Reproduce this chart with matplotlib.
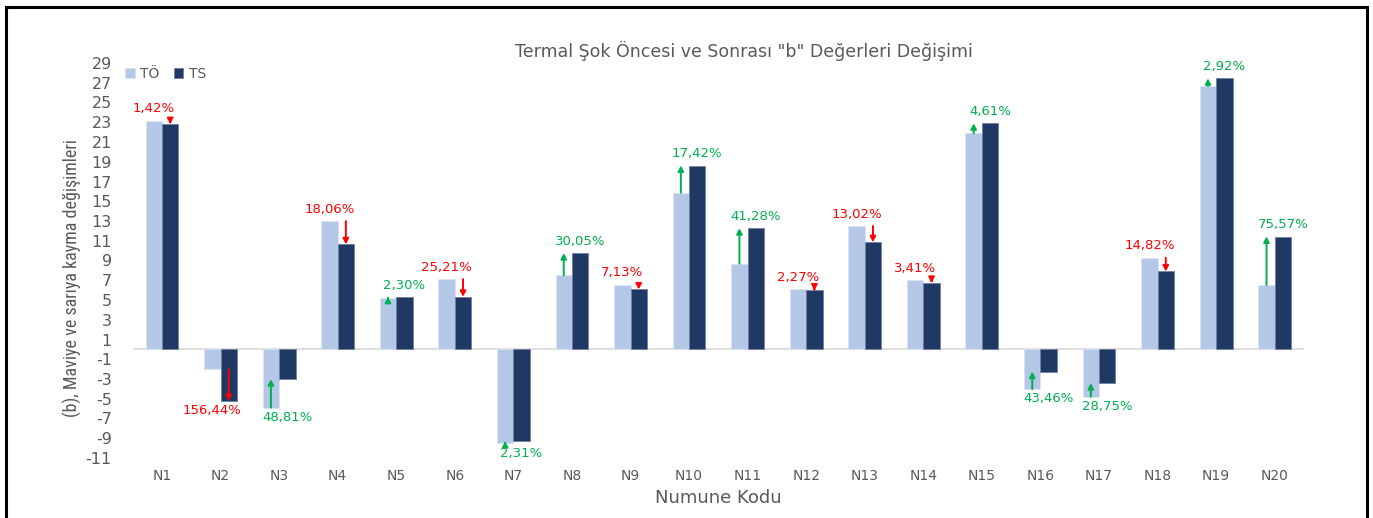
import numpy as np
import matplotlib
matplotlib.use("Agg")
import matplotlib.pyplot as plt
from matplotlib import font_manager
from matplotlib.patches import Rectangle

codes = [f"N{i}" for i in range(1, 21)]
to_vals = [23.15, -2.03, -5.91, 12.99, 5.19, 7.12, -9.52, 7.49, 6.54, 15.86,
           8.68, 6.11, 12.49, 6.98, 21.87, -4.02, -4.80, 9.28, 26.66, 6.51]
ts_vals = [22.82, -5.21, -3.03, 10.64, 5.31, 5.33, -9.30, 9.74, 6.07, 18.62,
           12.26, 5.97, 10.86, 6.74, 22.88, -2.27, -3.42, 7.90, 27.44, 11.43]
change_labels = ["1,42%", "156,44%", "48,81%", "18,06%", "2,30%", "25,21%", "2,31%",
                 "30,05%", "7,13%", "17,42%", "41,28%", "2,27%", "13,02%", "3,41%",
                 "4,61%", "43,46%", "28,75%", "14,82%", "2,92%", "75,57%"]
yticks = list(range(-11, 30, 2))

C_TO = "#B4C7E7"
C_TS = "#203864"
RED = "#FF0000"
GREEN = "#00B050"
GREY = "#595959"

plt.rcParams["axes.unicode_minus"] = False
avail = {f.name for f in font_manager.fontManager.ttflist}
narrow = next((f for f in ["Liberation Sans Narrow", "DejaVu Sans Condensed", "Roboto Condensed"]
               if f in avail), "Liberation Sans")

W, H = 1373, 518
fig = plt.figure(figsize=(W / 100, H / 100), dpi=100)
ax = fig.add_axes([132.7 / W, 1 - 458 / H, (1304 - 132.7) / W, (458 - 63) / H])

x = np.arange(len(codes))
bw = 0.28
off = 0.14
ax.bar(x - off, to_vals, bw, color=C_TO, edgecolor="#DCE4F3", linewidth=0.6, label="TÖ", zorder=2)
ax.bar(x + off, ts_vals, bw, color=C_TS, edgecolor="#6F80A0", linewidth=0.6, label="TS", zorder=2)
ax.axhline(0, color="#D9D9D9", lw=1.2, zorder=1)

# arrow from TÖ value to TS value, label over the other bar
for i, (a, b, lab) in enumerate(zip(to_vals, ts_vals, change_labels)):
    up = b > a
    c = GREEN if up else RED
    ax_x = x[i] - off if up else x[i] + off
    ax.annotate("", xy=(ax_x, b), xytext=(ax_x, a),
                arrowprops=dict(arrowstyle="-|>,head_length=0.32,head_width=0.17",
                                color=c, lw=1.4, shrinkA=0, shrinkB=0), zorder=3)
    tx = x[i] + off if up else x[i] - off
    if max(a, b) > 0:
        ty = max(a, b) + 1.2
    else:
        ty = min(a, b) - 1.0
    ax.text(tx, ty, lab, color=c, fontsize=9.5, ha="center", va="center", zorder=4)

ax.set_xlim(-0.5, len(codes) - 0.5)
ax.set_ylim(-11, 29)
ax.set_yticks(yticks)
ax.set_xticks(x)
ax.set_xticklabels(codes)
ax.tick_params(length=0, colors=GREY, labelsize=10)
ax.tick_params(axis="y", pad=15, labelsize=11.5)
ax.tick_params(axis="x", pad=8)
for s in ax.spines.values():
    s.set_visible(False)
ax.set_xlabel("Numune Kodu", fontsize=13, color=GREY, labelpad=4)

fig.text(744 / W, 1 - 51 / H, 'Termal Şok Öncesi ve Sonrası "b" Değerleri Değişimi',
         ha="center", va="center", fontsize=12.5, color=GREY)
fig.text(72 / W, 1 - 278 / H, "(b), Maviye ve sarıya kayma değişimleri", rotation=90,
         ha="center", va="center", fontsize=13, color=GREY, family=narrow)

ax.legend(loc="center left", bbox_to_anchor=(125 / W, 1 - 74 / H), bbox_transform=fig.transFigure,
          ncol=2, frameon=False, fontsize=10, labelcolor=GREY, handlelength=0.7, handleheight=0.7,
          handletextpad=0.4, columnspacing=1.0, borderpad=0, borderaxespad=0)

fig.patches.append(Rectangle((6 / W, -0.1), (1367 - 6) / W, 1.1 - 7 / H, transform=fig.transFigure,
                             fill=False, edgecolor="black", linewidth=2.2))

fig.savefig("out.png", dpi=100)
